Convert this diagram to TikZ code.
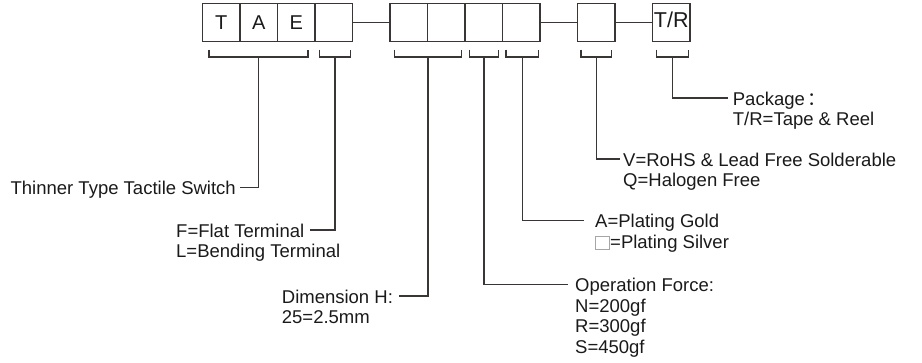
\documentclass[tikz,border=0pt]{standalone}
\usepackage{fontspec}
\setmainfont{Liberation Sans}
\newfontfamily\cjk{Noto Sans CJK SC}
\definecolor{ln}{HTML}{3A3636}
\definecolor{tx}{HTML}{1A1A1A}
\begin{document}
\begin{tikzpicture}[x=1pt,y=-1pt,
  cell/.style={draw=ln,line width=1.2pt,minimum width=37.5pt,minimum height=38pt,inner sep=0pt,font=\fontsize{20}{20}\selectfont,text=tx},
  lead/.style={draw=ln,line width=1.2pt},
  lbl/.style={anchor=base west,inner sep=0pt,font=\fontsize{18.5}{20}\selectfont,text=tx},
  lblr/.style={anchor=base east,inner sep=0pt,font=\fontsize{18.5}{20}\selectfont,text=tx}]
\useasboundingbox (0,0) rectangle (922,362);
% code boxes
\node[cell] (c1) at (221.25,22.5) {T};
\node[cell] (c2) at (258.75,22.5) {A};
\node[cell] (c3) at (296.25,22.5) {E};
\node[cell] (c4) at (333.75,22.5) {};
\node[cell] (c5) at (408.75,22.5) {};
\node[cell] (c6) at (446.25,22.5) {};
\node[cell] (c7) at (483.75,22.5) {};
\node[cell] (c8) at (521.25,22.5) {};
\node[cell] (c9) at (596.25,22.5) {};
\node[cell] (c10) at (671.25,22.5) {};
\node[inner sep=0pt,font=\fontsize{21.5}{21.5}\selectfont,text=tx] (tr) at (671.25,19.5) {T/R};
\draw[lead] (c4.east) -- (c5.west);
\draw[lead] (c8.east) -- (c9.west);
\draw[lead] (c9.east) -- (c10.west);
% brackets
\draw[lead] (209,49.5) |- (308,57) -- (308,49.5);
\draw[lead] (319.3,49.5) |- (350.7,57) -- (350.7,49.5);
\draw[lead] (394.3,49.5) |- (461.7,57) -- (461.7,49.5);
\draw[lead] (469.3,49.5) |- (498.3,57) -- (498.3,49.5);
\draw[lead] (506,49.5) |- (538.3,57) -- (538.3,49.5);
\draw[lead] (581,49.5) |- (611.7,57) -- (611.7,49.5);
\draw[lead] (656.7,49.5) |- (688.3,57) -- (688.3,49.5);
\coordinate (s1) at (258.5,57);
\coordinate (s2) at (335,57);
\coordinate (s3) at (428,57);
\coordinate (s4) at (484,57);
\coordinate (s5) at (522.2,57);
\coordinate (s6) at (596.3,57);
\coordinate (s7) at (672.5,57);
% leader ends
\coordinate (e1) at (240,187.7);
\coordinate (e2) at (310,230);
\coordinate (e3) at (399.3,296);
\coordinate (e4) at (568.3,284.5);
\coordinate (e5) at (584,220.5);
\coordinate (e6) at (620,159);
\coordinate (e7) at (728.3,98);
\draw[lead] (s1) |- (e1);
\draw[lead] (s2) |- (e2);
\draw[lead] (s3) |- (e3);
\draw[lead] (s4) |- (e4);
\draw[lead] (s5) |- (e5);
\draw[lead] (s6) |- (e6);
\draw[lead] (s7) |- (e7);
% labels
\node[lblr] (l1) at (236,194.7) {Thinner Type Tactile Switch};
\node[lbl] (l2a) at (176,237) {F=Flat Terminal};
\node[lbl] (l2b) at (176,257.5) {L=Bending Terminal};
\node[lbl] (l3a) at (281.7,303) {Dimension H:};
\node[lbl] (l3b) at (281.7,323.5) {25=2.5mm};
\node[lbl] (l4a) at (575,291.5) {Operation Force:};
\node[lbl] (l4b) at (575,312) {N=200gf};
\node[lbl] (l4c) at (575,332.5) {R=300gf};
\node[lbl] (l4d) at (575,353) {S=450gf};
\node[lbl] (l5a) at (595,227.5) {A=Plating Gold};
\draw[draw=gray!70,line width=0.8pt] (595.5,236.5) rectangle (609,249.5);
\node[lbl] (l5b) at (610,248) {=Plating Silver};
\node[lbl] (l6a) at (623,166) {V=RoHS \& Lead Free Solderable};
\node[lbl] (l6b) at (623,186.5) {Q=Halogen Free};
\node[lbl] (l7a) at (732.7,105) {Package\kern3pt{\cjk ：}};
\node[lbl] (l7b) at (732.7,125.5) {T/R=Tape \& Reel};
\end{tikzpicture}
\end{document}
